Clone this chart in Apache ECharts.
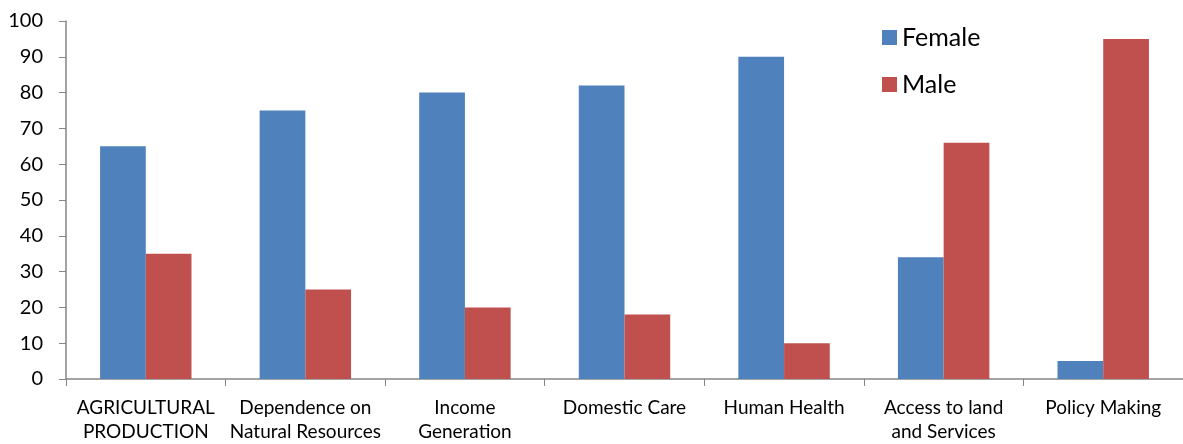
<!DOCTYPE html>
<html>
<head>
<meta charset="utf-8">
<script src="https://cdn.jsdelivr.net/npm/echarts@6/dist/echarts.min.js"></script>
<style>
  html, body { margin: 0; padding: 0; background: #fff; }
  #chart { width: 1183px; height: 444px; }
</style>
</head>
<body>
<div id="chart"></div>
<script>
var categories = ['AGRICULTURAL\nPRODUCTION', 'Dependence on\nNatural Resources', 'Income\nGeneration',
  'Domestic Care', 'Human Health', 'Access to land\nand Services', 'Policy Making'];
var female = [65, 75, 80, 82, 90, 34, 5];
var male = [35, 25, 20, 18, 10, 66, 95];
var yTicks = [0, 100, 10];  // min, max, step

var font = 'Lato, "Open Sans", sans-serif';
var axisColor = '#868686';

var myChart = echarts.init(document.getElementById('chart'));
var option = {
  animation: false,
  textStyle: { fontFamily: font },
  legend: {
    orient: 'vertical',
    left: 877,
    top: 20,
    itemWidth: 15,
    itemHeight: 15,
    itemGap: 22,
    icon: 'rect',
    textStyle: { fontSize: 25, color: '#000', fontFamily: font },
    data: ['Female', 'Male']
  },
  grid: { left: 66, top: 21, bottom: 63, width: 1125 },
  xAxis: {
    type: 'category',
    data: categories,
    axisLine: { lineStyle: { color: axisColor, width: 1.5 } },
    axisTick: { show: true, length: 7, lineStyle: { color: axisColor } },
    axisLabel: { color: '#000', fontSize: 19, lineHeight: 24, margin: 17, interval: 0, fontFamily: font }
  },
  yAxis: {
    type: 'value',
    min: yTicks[0],
    max: yTicks[1],
    interval: yTicks[2],
    splitLine: { show: false },
    axisLine: { show: true, lineStyle: { color: axisColor, width: 1.5 } },
    axisTick: { show: true, length: 7, lineStyle: { color: axisColor } },
    axisLabel: { color: '#000', fontSize: 20, margin: 23, fontFamily: font }
  },
  series: [
    {
      name: 'Female',
      type: 'bar',
      data: female,
      barGap: '0%',
      barCategoryGap: '42.7%',
      itemStyle: { color: '#4F81BD' }
    },
    {
      name: 'Male',
      type: 'bar',
      data: male,
      itemStyle: { color: '#C0504D' }
    }
  ]
};
myChart.setOption(option);
</script>
</body>
</html>
